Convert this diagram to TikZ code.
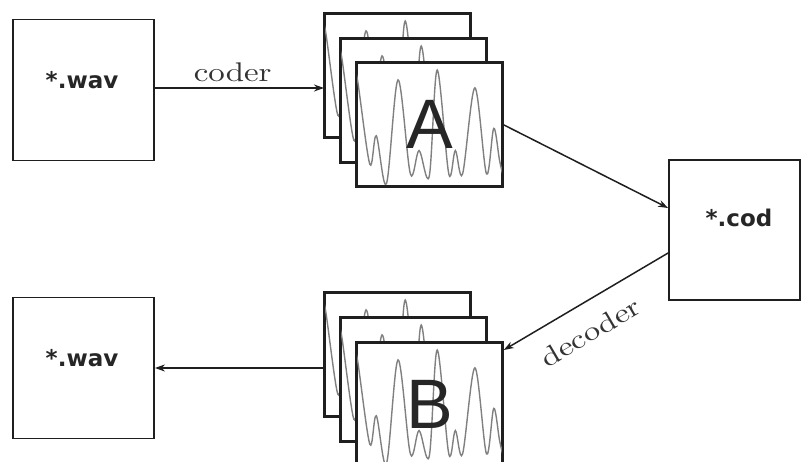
\documentclass[tikz,border=0pt]{standalone}
\usepackage{fontspec}
\usetikzlibrary{arrows.meta}
\newfontfamily\boxfont{DejaVu Sans}
\newfontfamily\letterfont{Liberation Sans}
\newfontfamily\capfont{lmroman10-regular.otf}

\tikzset{
  filebox/.style={draw=black!88, line width=1.8pt, minimum width=141pt, minimum height=141pt, inner sep=0pt},
  filename/.style={font=\boxfont\bfseries\fontsize{23}{23}\selectfont, text=black!85, inner sep=0pt},
  signalframe/.style={draw=black!88, line width=1.8pt, fill=white, minimum width=145pt,
    minimum height=123pt, inner sep=0pt, anchor=north west},
  bigletter/.style={font=\letterfont\fontsize{70}{70}\selectfont, text=black!85, inner sep=0pt},
  wave/.style={black!50, line width=1.4pt},
  flow/.style={draw=black!88, line width=1.5pt, -{Stealth[length=10pt, width=7pt]}},
  caption/.style={font=\capfont\fontsize{27}{27}\selectfont, text=black!80}
}

% signal trace inside a frame whose top-left corner is (#2,#3), clipped to frame #1
\newcommand\signaltrace[3]{%
  \begin{scope}
    \clip (#1.south west) rectangle (#1.north east);
    \draw[wave] plot[smooth, tension=0.55] coordinates {
      ({#2-0.02*145},{#3+0.05*123}) ({#2+0.01*145},{#3+0.145*123})
      ({#2+0.095*145},{#3+0.83*123}) ({#2+0.14*145},{#3+0.60*123})
      ({#2+0.21*145},{#3+0.99*123}) ({#2+0.29*145},{#3+0.145*123})
      ({#2+0.375*145},{#3+0.91*123}) ({#2+0.435*145},{#3+0.72*123})
      ({#2+0.505*145},{#3+0.93*123}) ({#2+0.56*145},{#3+0.065*123})
      ({#2+0.64*145},{#3+0.91*123}) ({#2+0.685*145},{#3+0.72*123})
      ({#2+0.735*145},{#3+0.91*123}) ({#2+0.82*145},{#3+0.21*123})
      ({#2+0.90*145},{#3+0.91*123}) ({#2+0.95*145},{#3+0.54*123})
      ({#2+0.99*145},{#3+0.80*123}) ({#2+1.02*145},{#3+0.95*123})};
  \end{scope}
  \draw[draw=black!88, line width=1.8pt] (#1.south west) rectangle (#1.north east);
}

\begin{document}
\begin{tikzpicture}[x=1pt, y=-1pt]
  \useasboundingbox (0,0) rectangle (801,462);

  % input and output files
  \node[filebox] (wavin) at (83.5,90) {};
  \node[filename] (wavintxt) at (82,80) {*.wav};
  \node[filebox] (wavout) at (83.5,368) {};
  \node[filename] (wavouttxt) at (82,358) {*.wav};
  \node[filebox, minimum width=131pt, minimum height=140pt] (cod) at (734.5,230) {};
  \node[filename] (codtxt) at (739,218) {*.cod};

  % stacks of signal frames, back to front
  \node[signalframe] (A1) at (324,13) {};
  \signaltrace{A1}{324}{13}
  \node[signalframe] (A2) at (340,38) {};
  \signaltrace{A2}{340}{38}
  \node[signalframe] (A3) at (356,62) {};
  \signaltrace{A3}{356}{62}
  \node[bigletter] (Aletter) at (A3.center) {A};

  \node[signalframe] (B1) at (324,292) {};
  \signaltrace{B1}{324}{292}
  \node[signalframe] (B2) at (340,317) {};
  \signaltrace{B2}{340}{317}
  \node[signalframe] (B3) at (356,342) {};
  \signaltrace{B3}{356}{342}
  \node[bigletter] (Bletter) at (B3.center) {B};

  % connectors
  \draw[flow] ([yshift=2pt]wavin.east) -- node[caption, above=2pt, pos=0.46] (coderlbl) {\scalebox{1.22}[1]{coder}}
    ([yshift=2pt]wavin.east -| A1.west);
  \draw[flow] (A3.east) -- ([yshift=22pt]cod.west);
  \draw[flow] ([yshift=-23pt]cod.west) -- node[caption, sloped, below=15pt, pos=0.56] (decoderlbl) {\scalebox{1.22}[1]{decoder}}
    ([xshift=1pt, yshift=-8pt]B3.north east);
  \draw[flow] (B1.west |- wavout.east) -- (wavout.east);
\end{tikzpicture}
\end{document}
